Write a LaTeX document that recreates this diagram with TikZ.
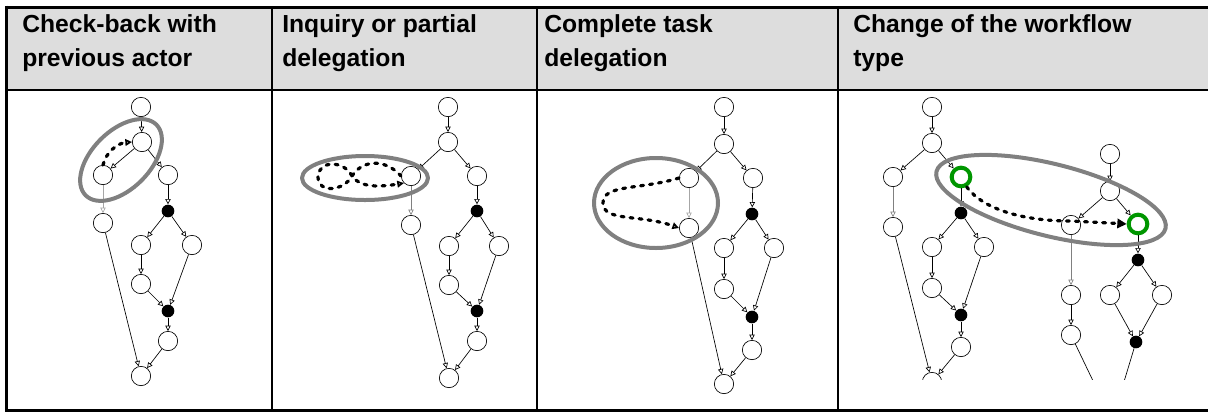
\documentclass[tikz,border=0pt]{standalone}
\usepackage{fontspec}
\setmainfont{Liberation Sans}
\usetikzlibrary{arrows.meta}
\definecolor{hdrgray}{RGB}{221,221,221}
\definecolor{ringgray}{RGB}{128,128,128}
\definecolor{okgreen}{RGB}{0,150,0}
\begin{document}
\begin{tikzpicture}[x=0.75pt,y=-0.75pt, line join=round,
	st/.style={circle,draw,fill=white,inner sep=0pt,minimum size=14.5pt,line width=0.5pt},
	blk/.style={circle,fill=black,inner sep=0pt,minimum size=9.5pt},
	grn/.style={circle,draw=okgreen,fill=white,line width=3pt,inner sep=0pt,minimum size=14pt},
	arr/.style={-{Triangle[open,length=4pt,width=4pt]},line width=0.5pt},
	garr/.style={arr,draw=gray!70},
	ring/.style={draw=ringgray,line width=3pt},
	dsh/.style={line width=2.4pt,dash pattern=on 2.2pt off 4.6pt,line cap=round},
	hdr/.style={anchor=base west,align=left,inner sep=0pt,font=\fontsize{18.5}{25.5}\selectfont\bfseries}]
	\useasboundingbox (0,0) rectangle (1208,412);
	% table
	\fill[hdrgray] (6.5,7) rectangle (1208,90);
	\draw[line width=2.25pt] (5,7)--(1208,7);
	\draw[line width=2.4pt] (6.5,5.5)--(6.5,412);
	\draw[line width=1.9pt] (6.5,90)--(1208,90);
	\draw[line width=1.9pt] (6.5,410.5)--(1208,410.5);
	\draw[line width=2pt] (272,7)--(272,411);
	\draw[line width=2pt] (537,7)--(537,411);
	\draw[line width=2pt] (838,7)--(838,411);
	\node[hdr] (h1) at (22,66) {Check-back with\\previous actor};
	\node[hdr] (h2) at (282,66) {Inquiry or partial\\delegation};
	\node[hdr] (h3) at (544,66) {Complete task\\delegation};
	\node[hdr] (h4) at (853,66) {Change of the workflow\\type};
	% check-back
	\node[st] (p1n1) at (141,107) {};
	\node[st] (p1n2) at (142,142) {};
	\node[st] (p1n3) at (103,175) {};
	\node[st] (p1n4) at (168,175) {};
	\node[blk] (p1b1) at (168,211) {};
	\node[st] (p1n5) at (103,223) {};
	\node[st] (p1n6) at (141,245) {};
	\node[st] (p1n7) at (192,245) {};
	\node[st] (p1n8) at (141,284) {};
	\node[blk] (p1b2) at (168,311) {};
	\node[st] (p1n9) at (168,341) {};
	\node[st] (p1n10) at (141,376) {};
	\draw[arr] (p1n1)--(p1n2); \draw[arr] (p1n2)--(p1n3); \draw[arr] (p1n2)--(p1n4);
	\draw[garr] (p1n3)--(p1n5); \draw[arr] (p1n4)--(p1b1);
	\draw[arr] (p1b1)--(p1n6); \draw[arr] (p1b1)--(p1n7); \draw[arr] (p1n6)--(p1n8);
	\draw[arr] (p1n8)--(p1b2); \draw[arr] (p1n7)--(p1b2); \draw[arr] (p1b2)--(p1n9);
	\draw[arr] (p1n9)--(p1n10); \draw[arr] (p1n5)--(p1n10);
	\draw[ring,rotate around={45:(121,160)}] (121,160) ellipse [x radius=50, y radius=29];
	\draw[dsh,-{Triangle[open,length=5pt,width=5pt]}] (p1n3.north) .. controls (106,152) and (118,143) .. (p1n2.west);
	% inquiry
	\node[st] (p2n1) at (448,107) {};
	\node[st] (p2n2) at (448,142) {};
	\node[st] (p2n3) at (411,176) {};
	\node[st] (p2n4) at (477,176) {};
	\node[blk] (p2b1) at (477,211) {};
	\node[st] (p2n5) at (411,225) {};
	\node[st] (p2n6) at (449,246) {};
	\node[st] (p2n7) at (499,246) {};
	\node[st] (p2n8) at (449,285) {};
	\node[blk] (p2b2) at (477,311) {};
	\node[st] (p2n9) at (477,341) {};
	\node[st] (p2n10) at (449,378) {};
	\draw[arr] (p2n1)--(p2n2); \draw[arr] (p2n2)--(p2n3); \draw[arr] (p2n2)--(p2n4);
	\draw[arr,draw=gray] (p2n3)--(p2n5); \draw[arr] (p2n4)--(p2b1);
	\draw[arr] (p2b1)--(p2n6); \draw[arr] (p2b1)--(p2n7); \draw[arr] (p2n6)--(p2n8);
	\draw[arr] (p2n8)--(p2b2); \draw[arr] (p2n7)--(p2b2); \draw[arr] (p2b2)--(p2n9);
	\draw[arr] (p2n9)--(p2n10); \draw[arr] (p2n5)--(p2n10);
	\draw[ring] (365,178) ellipse [x radius=63, y radius=22];
	\draw[dsh,-{Triangle[open,length=5pt,width=5pt]}] (p2n3.west) .. controls (385,158) and (362,160) .. (352,176)
		.. controls (344,191) and (318,194) .. (318,177) .. controls (318,160) and (344,160) .. (352,176)
		.. controls (360,188) and (380,187) .. (p2n3.south west);
	% complete delegation
	\node[st] (p3n1) at (724,107) {};
	\node[st] (p3n2) at (724,144) {};
	\node[st] (p3n3) at (689,178) {};
	\node[st] (p3n4) at (753,178) {};
	\node[blk] (p3b1) at (752,214) {};
	\node[st] (p3n5) at (689,228) {};
	\node[st] (p3n6) at (724,248) {};
	\node[st] (p3n7) at (774,248) {};
	\node[st] (p3n8) at (724,289) {};
	\node[blk] (p3b2) at (752,317) {};
	\node[st] (p3n9) at (752,350) {};
	\node[st] (p3n10) at (724,384) {};
	\draw[arr] (p3n1)--(p3n2); \draw[arr] (p3n2)--(p3n3); \draw[arr] (p3n2)--(p3n4);
	\draw[garr] (p3n3)--(p3n5); \draw[arr] (p3n4)--(p3b1);
	\draw[arr] (p3b1)--(p3n6); \draw[arr] (p3b1)--(p3n7); \draw[arr] (p3n6)--(p3n8);
	\draw[arr] (p3n8)--(p3b2); \draw[arr] (p3n7)--(p3b2); \draw[arr] (p3b2)--(p3n9);
	\draw[arr] (p3n9)--(p3n10); \draw[arr] (p3n5)--(p3n10);
	\draw[ring] (656,203) ellipse [x radius=62, y radius=45];
	\draw[dsh,-{Triangle[open,length=5pt,width=5pt]}] (p3n3.west) .. controls (640,190) and (603,184) .. (603,203)
		.. controls (603,222) and (640,214) .. (p3n5.west);
	% workflow type
	\begin{scope}
	\clip (840,91) rectangle (1208,379);
	\node[st] (p4a1) at (932,107) {};
	\node[st] (p4a2) at (932,143) {};
	\node[st] (p4a3) at (893,177) {};
	\node[grn] (p4a4) at (961,177) {};
	\node[blk] (p4ab1) at (961,213) {};
	\node[st] (p4a5) at (893,227) {};
	\node[st] (p4a6) at (932,247) {};
	\node[st] (p4a7) at (984,247) {};
	\node[st] (p4a8) at (932,288) {};
	\node[blk] (p4ab2) at (961,315) {};
	\node[st] (p4a9) at (961,347) {};
	\node[st] (p4a10) at (932,382) {};
	\draw[arr] (p4a1)--(p4a2); \draw[arr] (p4a2)--(p4a3); \draw[arr] (p4a2)--(p4a4);
	\draw[arr,draw=gray] (p4a3)--(p4a5); \draw[arr] (p4a4)--(p4ab1);
	\draw[arr] (p4ab1)--(p4a6); \draw[arr] (p4ab1)--(p4a7); \draw[arr] (p4a6)--(p4a8);
	\draw[arr] (p4a8)--(p4ab2); \draw[arr] (p4a7)--(p4ab2); \draw[arr] (p4ab2)--(p4a9);
	\draw[arr] (p4a9)--(p4a10); \draw[arr] (p4a5)--(p4a10);
	\node[st] (p4c1) at (1110,154) {};
	\node[st] (p4c2) at (1110,191) {};
	\node[st] (p4c3) at (1071,225) {};
	\node[grn] (p4c4) at (1138,224) {};
	\node[blk] (p4cb1) at (1138,260) {};
	\node[st] (p4c5) at (1071,295) {};
	\node[st] (p4c6) at (1110,295) {};
	\node[st] (p4c7) at (1162,295) {};
	\node[st] (p4c8) at (1071,335) {};
	\node[blk] (p4cb2) at (1136,342) {};
	\coordinate (p4e1) at (1095,385);
	\coordinate (p4e2) at (1123,385);
	\draw[arr] (p4c1)--(p4c2); \draw[arr] (p4c2)--(p4c3); \draw[arr] (p4c2)--(p4c4);
	\draw[arr,draw=gray] (p4c3)--(p4c5); \draw[arr] (p4c5)--(p4c8); \draw[arr] (p4c4)--(p4cb1);
	\draw[arr] (p4cb1)--(p4c6); \draw[arr] (p4cb1)--(p4c7);
	\draw[arr] (p4c6)--(p4cb2); \draw[arr] (p4c7)--(p4cb2);
	\draw[line width=0.5pt] (p4c8)--(p4e1); \draw[line width=0.5pt] (p4cb2)--(p4e2);
	\end{scope}
	\draw[ring,rotate around={-14:(1051,200)}] (1051,200) ellipse [x radius=118, y radius=36];
	\draw[dsh,-{Triangle[length=7pt,width=7pt]}] (p4a4.-60) .. controls (985,212) and (1030,221) .. (1070,221)
		.. controls (1090,222) and (1110,223) .. (p4c4.west);
\end{tikzpicture}
\end{document}
